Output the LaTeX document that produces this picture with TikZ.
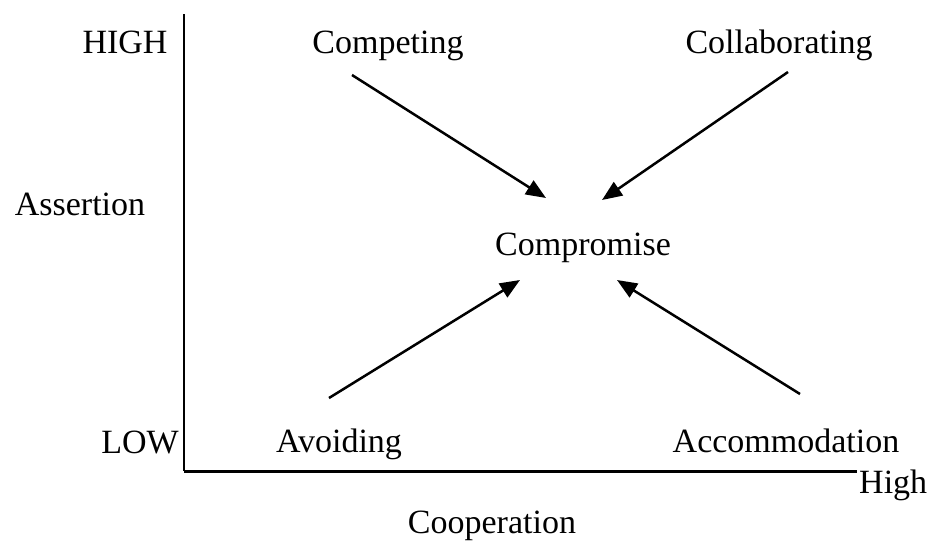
\documentclass[tikz,border=0pt]{standalone}
\usepackage{fontspec}
\setmainfont{Liberation Serif}
\usetikzlibrary{arrows.meta}
\begin{document}
\begin{tikzpicture}[x=1pt,y=-1pt,
  lbl/.style={inner sep=0pt,anchor=base,font=\fontsize{34}{40}\selectfont},
  conn/.style={line width=2.5pt,-{Triangle[length=20pt,width=16pt]}},
  axis/.style={line width=2pt}]
\useasboundingbox (0,0) rectangle (933,542);
\node[lbl] (high) at (125,53) {HIGH};
\node[lbl] (competing) at (388,53) {Competing};
\node[lbl] (collab) at (779,53) {Collaborating};
\node[lbl] (assertion) at (80,215) {Assertion};
\node[lbl] (comp) at (583,255) {Compromise};
\node[lbl] (low) at (140,453) {LOW};
\node[lbl] (avoid) at (339,452) {Avoiding};
\node[lbl] (accom) at (786,452) {Accommodation};
\node[lbl,anchor=base west] (highx) at (859,493) {High};
\node[lbl] (coop) at (492,533) {Cooperation};
\coordinate (top) at (184,14);
\coordinate (origin) at (184,471);
\coordinate (right) at (857,471);
\draw[line width=1.5pt] (top) -- (origin);
\draw[line width=3pt] (origin) -- (right);
\coordinate (c1s) at (352,75); \coordinate (c1e) at (546,198);
\coordinate (c2s) at (788,72); \coordinate (c2e) at (602,200);
\coordinate (c3s) at (329,398); \coordinate (c3e) at (520,280);
\coordinate (c4s) at (800,394); \coordinate (c4e) at (617,280);
\draw[conn] (c1s) -- (c1e);
\draw[conn] (c2s) -- (c2e);
\draw[conn] (c3s) -- (c3e);
\draw[conn] (c4s) -- (c4e);
\end{tikzpicture}
\end{document}
